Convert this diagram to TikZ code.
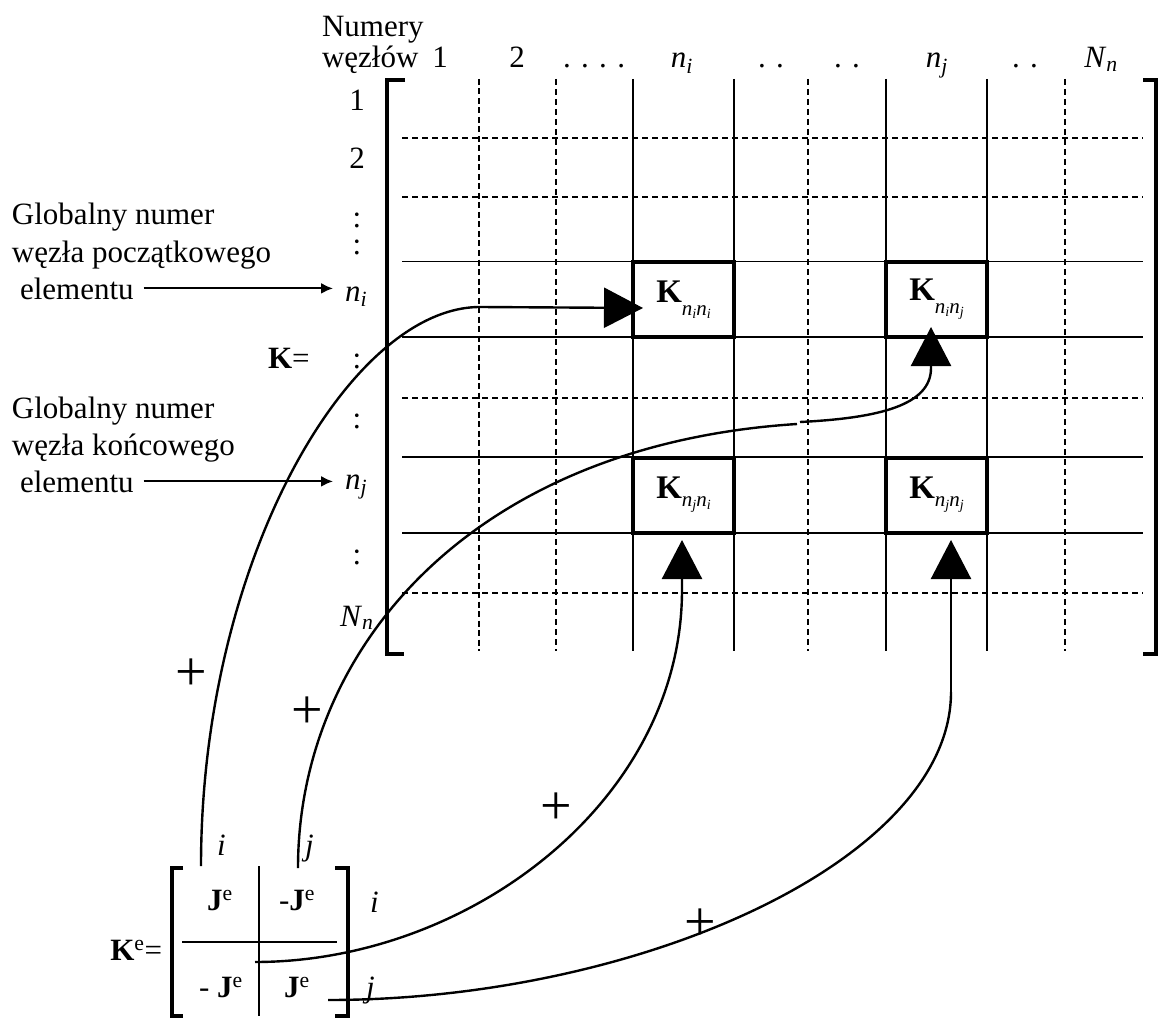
\documentclass[tikz,border=0pt]{standalone}
\usepackage{fontspec}
\setmainfont{Liberation Serif}
\usetikzlibrary{arrows.meta}
\newcommand{\nsub}[1]{\textit{n}\textsubscript{\textit{#1}}}
\newcommand{\Kbox}[3]{{\fontsize{33}{33}\selectfont\textbf{K}}\raisebox{-#3}{\fontsize{21}{21}\selectfont\textit{n}\raisebox{-3pt}{\fontsize{14}{14}\selectfont\textit{#1}}\textit{n}\raisebox{-3pt}{\fontsize{14}{14}\selectfont\textit{#2}}}}
\begin{document}
\begin{tikzpicture}[x=1pt,y=-1pt,
  every node/.style={inner sep=0pt,outer sep=0pt,font=\fontsize{31}{37}\selectfont},
  gridsolid/.style={line width=1.8pt},
  griddash/.style={line width=2.6pt,dash pattern=on 6pt off 4pt},
  griddashthin/.style={line width=1.6pt,dash pattern=on 6pt off 3.5pt},
  bracketline/.style={line width=4pt},
  kbox/.style={draw,line width=4pt,minimum width=101pt,minimum height=75pt},
  curveline/.style={line width=2.4pt},
  bigarrow/.style={line width=2.4pt,-{Triangle[length=39pt,width=40pt]}},
  smallarrow/.style={line width=2pt,-{Latex[length=12pt,width=11pt]}},
  plussign/.style={font=\fontsize{56}{56}\selectfont},
  lbl/.style={anchor=base},
  lblw/.style={anchor=base west}]
\useasboundingbox (0,0) rectangle (1162,1019);

% ---- grid of the global matrix
\foreach \y in {138,197,398,593} \draw[griddash] (402,\y) -- (1143,\y);
\foreach \y in {261.5,337,457,533} \draw[gridsolid] (402,\y) -- (1143,\y);
\draw[griddashthin] (479,79) -- (479,651);
\foreach \x in {556,808,1065} \draw[griddash] (\x,79) -- (\x,651);
\foreach \x in {633,734,886,987} \draw[gridsolid] (\x,79) -- (\x,651);

% brackets of K
\draw[bracketline] (405,80) -- (387,80) -- (387,654) -- (404,654);
\draw[bracketline] (1143,80) -- (1156,80) -- (1156,654) -- (1143,654);

% boxes
\node[kbox] (b11) at (683.5,299.5) {\Kbox{i}{i}{13pt}};
\node[kbox] (b12) at (936.5,299.5) {\Kbox{i}{j}{13pt}};
\node[kbox] (b21) at (683.5,495) {\Kbox{j}{i}{8pt}};
\node[kbox] (b22) at (936.5,495) {\Kbox{j}{j}{8pt}};

% header
\node[lblw] (hnum) at (322,37) {Numery};
\node[lblw] (hwez) at (322,68) {węzłów};
\node[lbl] (c1) at (440,68) {1};
\node[lbl] (c2) at (517,68) {2};
\node[lbl] (c3) at (594,68) {.\,\,.\,\,.\,\,.};
\node[lbl] (c4) at (682,68) {\nsub{i}};
\node[lbl] (c5) at (771,68) {.\,\,.};
\node[lbl] (c6) at (847,68) {.\,\,.};
\node[lbl] (c7) at (937,68) {\nsub{j}};
\node[lbl] (c8) at (1025,68) {.\,\,.};
\node[lbl] (c9) at (1101,68) {\textit{N}\textsubscript{\textit{n}}};

% row labels
\node[lbl] (r1) at (357,111) {1};
\node[lbl] (r2) at (357,169) {2};
\node[align=center,font=\fontsize{31}{27}\selectfont] (r3) at (357,234) {:\\:};
\node[lblw] (rni) at (345,301) {\nsub{i}};
\node[lbl] (r5) at (357,368) {:};
\node[lbl] (r6) at (357,428) {:};
\node[lblw] (rnj) at (345,489) {\nsub{j}};
\node[lbl] (r8) at (357,564) {:};
\node[lblw] (rNn) at (340,626) {\textit{N}\textsubscript{\textit{n}}};

\node[lblw] (keq) at (268,368) {\textbf{K}=};

% left descriptions
\node[lblw] (g1a) at (12,225) {Globalny numer};
\node[lblw] (g1b) at (12,262) {węzła początkowego};
\node[lblw] (g1c) at (20,299) {elementu};
\node[lblw] (g2a) at (12,418) {Globalny numer};
\node[lblw] (g2b) at (12,455) {węzła końcowego};
\node[lblw] (g2c) at (20,492) {elementu};
\draw[smallarrow] ([xshift=10pt]g1c.east) -- ([xshift=-12pt]g1c.east -| rni.west);
\draw[smallarrow] ([xshift=10pt]g2c.east) -- ([xshift=-12pt]g2c.east -| rnj.west);

% element matrix Ke
\draw[bracketline] (183,868) -- (172,868) -- (172,1016) -- (183,1016);
\draw[bracketline] (335,868) -- (348,868) -- (348,1016) -- (335,1016);
\draw[gridsolid] (259,866) -- (259,1016);
\draw[gridsolid] (182,942) -- (337,942);
\node[lbl] (j11) at (220,910) {\textbf{J}\textsuperscript{e}};
\node[lbl] (j12) at (297,910) {-\textbf{J}\textsuperscript{e}};
\node[lbl] (j21) at (221,997) {- \textbf{J}\textsuperscript{e}};
\node[lbl] (j22) at (297,997) {\textbf{J}\textsuperscript{e}};
\node[anchor=base east] (ke) at (162,960) {\textbf{K}\textsuperscript{e}=};
\node[lblw] (ri) at (370,912) {\textit{i}};
\node[lblw] (rj) at (366,997) {\textit{j}};
\node[lblw] (ti) at (217,855) {\textit{i}};
\node[lblw] (tj) at (305,855) {\textit{j}};

% connector ends
\coordinate (kei) at (201,866);
\coordinate (kej) at (298,868);
\coordinate (kem) at (255,962);
\coordinate (keb) at (328,1000);
\coordinate (t11) at (643,308);
\coordinate (t12) at (931,327);
\coordinate (t21) at (682,540);
\coordinate (t22) at (951,540);

\draw[bigarrow] (kei) .. controls (201,560) and (350,307) .. (480,307) -- (t11);
\draw[curveline] (kej) .. controls (298,650) and (470,445) .. (797,424);
\draw[bigarrow] (800,422) .. controls (880,418) and (931,405) .. (931,368) -- (t12);
\draw[bigarrow] (kem) .. controls (470,962) and (682,800) .. (682,590) -- (t21);
\draw[curveline] (keb) .. controls (640,1000) and (951,860) .. (951,692);
\draw[bigarrow] (951,692) -- (t22);

% plus signs
\node[plussign] (p1) at (191,675) {+};
\node[plussign] (p2) at (307,713) {+};
\node[plussign] (p3) at (556,809) {+};
\node[plussign] (p4) at (700,925) {+};
\end{tikzpicture}
\end{document}
